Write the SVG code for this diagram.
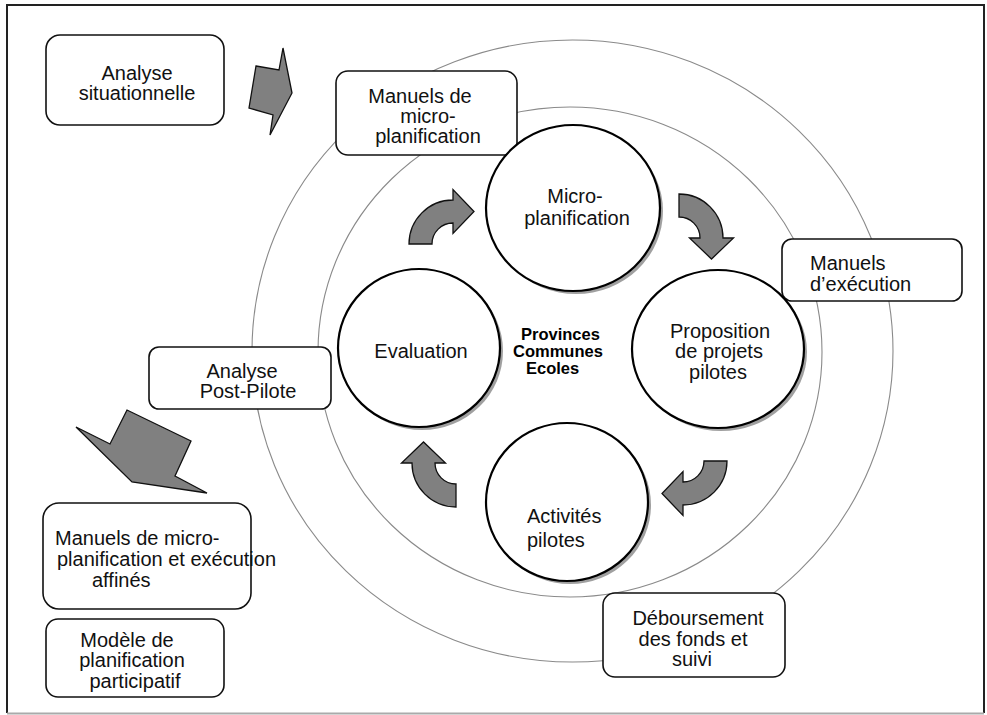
<svg xmlns="http://www.w3.org/2000/svg" width="987" height="715" viewBox="0 0 987 715">
  <defs>
    <style>
      .ring { fill: none; stroke: #8a8a8a; stroke-width: 1.1; }
      .box { fill: #ffffff; stroke: #111111; stroke-width: 1.6; }
      .node { fill: #ffffff; stroke: #000000; stroke-width: 2.2; }
      .shadow { fill: #a0a0a0; }
      .garrow { fill: #808080; stroke: #111111; stroke-width: 1.3; stroke-linejoin: miter; }
      .t { font-family: "Liberation Sans", Arial, Helvetica, sans-serif; font-size: 20px; fill: #111111; }
      .c { text-anchor: middle; }
      .b { font-family: "Liberation Sans", Arial, Helvetica, sans-serif; font-size: 16.5px; font-weight: bold; fill: #000000; }
    </style>
    <!-- quarter-ring curved arrow, pivot at ring centre, arrow pointing +x -->
    <path id="curl" d="M -44,0 A 44,44 0 0 1 0,-44 L 0,-54.5 L 21,-32.5 L 0,-10.5 L 0,-21 A 21,21 0 0 0 -21,0 Z"/>
  </defs>

  <rect width="987" height="715" fill="#ffffff"/>

  <!-- frame -->
  <g id="frame">
    <path d="M 7,713 L 7,5 L 984,5 L 984,713" fill="none" stroke="#222222" stroke-width="2"/>
    <line x1="7" y1="713.5" x2="984" y2="713.5" stroke="#aaaaaa" stroke-width="2"/>
  </g>

  <!-- concentric rings -->
  <g id="rings">
    <ellipse class="ring" cx="572.5" cy="351" rx="320.5" ry="311"/>
    <ellipse class="ring" cx="570" cy="352" rx="252" ry="245"/>
  </g>

  <!-- side boxes -->
  <g id="analyse-situationnelle">
    <rect class="box" x="46" y="35" width="178" height="90" rx="14"/>
    <text class="t c" x="137" y="80">Analyse</text>
    <text class="t c" x="137" y="100">situationnelle</text>
  </g>
  <g id="manuels-micro">
    <rect class="box" x="336" y="71" width="181" height="84" rx="12"/>
    <text class="t c" x="420" y="103">Manuels de</text>
    <text class="t c" x="428" y="123">micro-</text>
    <text class="t c" x="428" y="143">planification</text>
  </g>
  <g id="manuels-execution">
    <rect class="box" x="782" y="239" width="180" height="62" rx="10"/>
    <text class="t" x="810" y="270">Manuels</text>
    <text class="t" x="810" y="291">d’exécution</text>
  </g>
  <g id="analyse-post-pilote">
    <rect class="box" x="149" y="347" width="182" height="62" rx="10"/>
    <text class="t c" x="242" y="378">Analyse</text>
    <text class="t c" x="248" y="398">Post-Pilote</text>
  </g>
  <g id="manuels-affines">
    <rect class="box" x="43" y="503" width="208" height="106" rx="16"/>
    <text class="t" x="55" y="545">Manuels de micro-</text>
    <text class="t" x="57" y="566">planification et exécution</text>
    <text class="t" x="92" y="587">affinés</text>
  </g>
  <g id="modele-participatif">
    <rect class="box" x="46" y="619" width="178" height="78" rx="12"/>
    <text class="t c" x="127" y="647">Modèle de</text>
    <text class="t c" x="132" y="667">planification</text>
    <text class="t c" x="135" y="688">participatif</text>
  </g>
  <g id="deboursement">
    <rect class="box" x="603" y="593" width="182" height="84" rx="12"/>
    <text class="t c" x="698" y="625">Déboursement</text>
    <text class="t c" x="693" y="646">des fonds et</text>
    <text class="t c" x="692" y="666">suivi</text>
  </g>

  <!-- cycle nodes -->
  <g id="micro-planification">
    <ellipse class="shadow" cx="576" cy="211" rx="87" ry="83"/>
    <ellipse class="node" cx="573" cy="208" rx="87" ry="83"/>
    <text class="t c" x="575" y="203">Micro-</text>
    <text class="t c" x="577" y="225">planification</text>
  </g>
  <g id="proposition">
    <ellipse class="shadow" cx="721" cy="352" rx="86" ry="79"/>
    <ellipse class="node" cx="718" cy="349" rx="86" ry="79"/>
    <text class="t c" x="720" y="338">Proposition</text>
    <text class="t c" x="719" y="358">de projets</text>
    <text class="t c" x="718" y="379">pilotes</text>
  </g>
  <g id="activites">
    <ellipse class="shadow" cx="570" cy="505" rx="81" ry="79"/>
    <ellipse class="node" cx="567" cy="502" rx="81" ry="79"/>
    <text class="t" x="527" y="523">Activités</text>
    <text class="t" x="527" y="547">pilotes</text>
  </g>
  <g id="evaluation">
    <ellipse class="shadow" cx="422" cy="351" rx="81" ry="79"/>
    <ellipse class="node" cx="419" cy="348" rx="81" ry="79"/>
    <text class="t c" x="421" y="358">Evaluation</text>
  </g>
  <g id="centre">
    <text class="b" x="521" y="340">Provinces</text>
    <text class="b" x="513" y="357">Communes</text>
    <text class="b" x="526" y="374">Ecoles</text>
  </g>

  <!-- connectors -->
  <g id="connectors">
    <use href="#curl" class="garrow" transform="translate(453,244)"/>
    <use href="#curl" class="garrow" transform="translate(679,238) rotate(90)"/>
    <use href="#curl" class="garrow" transform="translate(683,461) rotate(180)"/>
    <use href="#curl" class="garrow" transform="translate(456,463) rotate(270)"/>
    <polygon class="garrow" points="256,66 279,70 283,48 292,93 270,135 273,115 249,108"/>
    <polygon class="garrow" points="76,427 110,444 127,410 191,441 175,476 207,493 132,482"/>
  </g>
</svg>
